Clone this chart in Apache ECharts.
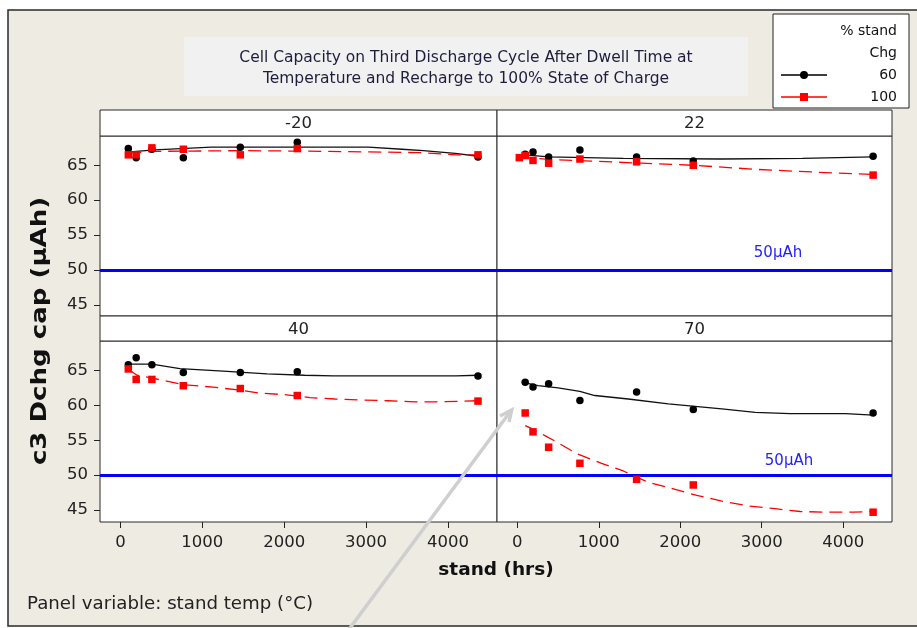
<!DOCTYPE html>
<html>
<head>
<meta charset="utf-8">
<script src="https://cdn.jsdelivr.net/npm/echarts@6/dist/echarts.min.js"></script>
<style>html,body{margin:0;padding:0;background:#fff}#c{width:917px;height:628px}</style>
</head>
<body>
<div id="c"></div>
<script>
// ---------------- DATA ----------------
const panelLabels = ['-20', '22', '40', '70'];
const legendNames = ['60', '100'];
const hours = [96, 192, 384, 768, 1464, 2160, 4368];
const hours100_22 = [24, 96, 192, 384, 768, 1464, 2160, 4368];
const xTicks = [0, 1000, 2000, 3000, 4000];
const yTicks = [45, 50, 55, 60, 65];
const refLevel = 50;

// observed capacities (µAh)
const chg60_m20 = [67.4, 66.1, 67.3, 66.1, 67.6, 68.3, 66.2];
const chg100_m20 = [66.5, 66.5, 67.5, 67.3, 66.5, 67.4, 66.5];
const chg60_22 = [66.6, 66.9, 66.2, 67.2, 66.2, 65.6, 66.3];
const chg100_22 = [66.1, 66.4, 65.7, 65.3, 65.9, 65.5, 65.0, 63.6];
const chg60_40 = [65.8, 66.8, 65.8, 64.7, 64.7, 64.8, 64.2];
const chg100_40 = [65.2, 63.7, 63.7, 62.8, 62.4, 61.4, 60.6];
const chg60_70 = [63.3, 62.6, 63.1, 60.7, 61.9, 59.4, 58.9];
const chg100_70 = [58.9, 56.2, 54.0, 51.7, 49.4, 48.6, 44.7];

// smoother (lowess) curves
const fitX60_m20 = [96, 192, 420, 1110, 2160, 3030, 3440, 3700, 4090, 4368];
const fitY60_m20 = [66.9, 67.0, 67.2, 67.6, 67.6, 67.6, 67.3, 67.1, 66.7, 66.3];
const fitX100_m20 = [96, 400, 1500, 2500, 3200, 3700, 4100, 4368];
const fitY100_m20 = [66.7, 67.0, 67.1, 67.0, 66.9, 66.8, 66.5, 66.5];
const fitX60_22 = [96, 384, 1300, 2500, 3500, 4368];
const fitY60_22 = [66.5, 66.2, 66.0, 65.9, 66.0, 66.2];
const fitX100_22 = [24, 440, 910, 1530, 2160, 2960, 3700, 4368];
const fitY100_22 = [66.2, 65.8, 65.6, 65.3, 65.0, 64.4, 64.0, 63.7];
const fitX60_40 = [96, 384, 725, 1255, 1790, 2250, 2600, 3335, 4100, 4368];
const fitY60_40 = [65.9, 65.9, 65.25, 64.9, 64.5, 64.3, 64.2, 64.2, 64.2, 64.3];
const fitX100_40 = [96, 200, 384, 768, 1130, 1434, 1700, 2030, 2316, 2620, 2965, 3270, 3600, 3920, 4368];
const fitY100_40 = [65.2, 64.3, 63.9, 62.95, 62.6, 62.2, 61.75, 61.5, 61.1, 60.9, 60.75, 60.65, 60.5, 60.5, 60.65];
const fitX60_70 = [96, 254, 500, 767, 951, 1361, 1853, 2510, 2920, 3350, 4030, 4368];
const fitY60_70 = [63.2, 62.8, 62.5, 62.0, 61.4, 60.9, 60.2, 59.5, 59.0, 58.8, 58.8, 58.6];
const fitX100_70 = [96, 172, 459, 726, 1034, 1300, 1607, 1895, 2203, 2510, 2838, 3167, 3474, 3800, 4130, 4368];
const fitY100_70 = [57.1, 56.7, 54.9, 53.1, 51.7, 50.6, 49.0, 48.1, 47.1, 46.3, 45.6, 45.2, 44.8, 44.7, 44.7, 44.8];

// ---------------- CHART ----------------
const FONT = 'DejaVu Sans';
const zip = (xs, ys) => xs.map((x, k) => [x, ys[k]]);

const panelData = [
  {h60: hours, y60: chg60_m20, h100: hours, y100: chg100_m20, fx60: fitX60_m20, fy60: fitY60_m20, fx100: fitX100_m20, fy100: fitY100_m20},
  {h60: hours, y60: chg60_22, h100: hours100_22, y100: chg100_22, fx60: fitX60_22, fy60: fitY60_22, fx100: fitX100_22, fy100: fitY100_22},
  {h60: hours, y60: chg60_40, h100: hours, y100: chg100_40, fx60: fitX60_40, fy60: fitY60_40, fx100: fitX100_40, fy100: fitY100_40},
  {h60: hours, y60: chg60_70, h100: hours, y100: chg100_70, fx60: fitX60_70, fy60: fitY60_70, fx100: fitX100_70, fy100: fitY100_70}
];

const gridBoxes = [
  {left: 100, top: 136, width: 397, height: 180},
  {left: 497, top: 136, width: 395, height: 180},
  {left: 100, top: 341, width: 397, height: 181},
  {left: 497, top: 341, width: 395, height: 181}
];
const yRanges = [[43.4, 69.2], [43.4, 69.2], [43.3, 69.2], [43.3, 69.2]];

const grid = gridBoxes.map(b => Object.assign({show: true, backgroundColor: '#fff', borderColor: '#2b2b2b', borderWidth: 1}, b));

const xAxis = gridBoxes.map((b, i) => {
  const bottom = i >= 2;
  return {
    type: 'value', gridIndex: i, min: -250, max: 4600, position: 'bottom',
    splitLine: {show: false},
    axisLine: {show: false, onZero: false},
    axisTick: {show: bottom, length: 6, lineStyle: {color: '#222'}, customValues: xTicks},
    axisLabel: {show: bottom, customValues: xTicks, formatter: v => String(v), fontSize: 16.5, fontFamily: FONT, color: '#222', margin: 12}
  };
});
const yAxis = gridBoxes.map((b, i) => {
  const left = i % 2 === 0;
  return {
    type: 'value', gridIndex: i, min: yRanges[i][0], max: yRanges[i][1], position: 'left',
    splitLine: {show: false},
    axisLine: {show: false, onZero: false},
    axisTick: {show: left, length: 6, lineStyle: {color: '#222'}, customValues: yTicks},
    axisLabel: {show: left, customValues: yTicks, formatter: v => String(v), fontSize: 16.5, fontFamily: FONT, color: '#222', margin: 12}
  };
});

const series = [];
panelData.forEach((p, i) => {
  series.push({
    name: legendNames[0], type: 'line', xAxisIndex: i, yAxisIndex: i,
    data: zip(p.fx60, p.fy60), showSymbol: false, symbol: 'none',
    lineStyle: {color: '#111', width: 1.3}, itemStyle: {color: '#000'}, z: 3,
    markLine: {
      silent: true, symbol: 'none', label: {show: false},
      lineStyle: {color: '#0000ff', width: 3, type: 'solid'},
      data: [{yAxis: refLevel}]
    }
  });
  series.push({
    name: legendNames[1], type: 'line', xAxisIndex: i, yAxisIndex: i,
    data: zip(p.fx100, p.fy100), showSymbol: false, symbol: 'none',
    lineStyle: {color: '#ff0000', width: 1.3, type: [13, 7]}, itemStyle: {color: '#f00'}, z: 3
  });
  series.push({
    name: legendNames[0], type: 'scatter', xAxisIndex: i, yAxisIndex: i,
    data: zip(p.h60, p.y60), symbol: 'circle', symbolSize: 7.5,
    itemStyle: {color: '#000', opacity: 1}, z: 4
  });
  series.push({
    name: legendNames[1], type: 'scatter', xAxisIndex: i, yAxisIndex: i,
    data: zip(p.h100, p.y100), symbol: 'rect', symbolSize: 7.5,
    itemStyle: {color: '#ff0000', opacity: 1}, z: 5
  });
});

const ICON60 = 'path://M0,3.3L46,3.3L46,4.7L0,4.7Z M19,4A4,4 0 1 1 27,4A4,4 0 1 1 19,4Z';
const ICON100 = 'path://M0,3.3L46,3.3L46,4.7L0,4.7Z M19,0L27,0L27,8L19,8Z';

const strips = [
  {x: 100, y: 110, w: 397, h: 26},
  {x: 497, y: 110, w: 395, h: 26},
  {x: 100, y: 316, w: 397, h: 25},
  {x: 497, y: 316, w: 395, h: 25}
];

const graphic = [
  {type: 'rect', z: -10, shape: {x: 8, y: 10, width: 920, height: 616}, style: {fill: '#eeebe2', stroke: '#2a2a2a', lineWidth: 1.5}},
  {type: 'rect', z: -5, shape: {x: 184, y: 37, width: 564, height: 59}, style: {fill: '#f1f1f1'}}
];
strips.forEach((s, i) => {
  graphic.push({type: 'rect', z: 10, shape: {x: s.x, y: s.y, width: s.w, height: s.h}, style: {fill: '#fff', stroke: '#2b2b2b', lineWidth: 1}});
  graphic.push({type: 'text', z: 11, x: s.x + s.w / 2, y: s.y + s.h / 2 + 1,
    style: {text: panelLabels[i], fontSize: 16.5, fontFamily: FONT, fill: '#222', align: 'center', verticalAlign: 'middle'}});
});
graphic.push(
  {type: 'text', z: 11, x: 778, y: 253, style: {text: '50µAh', fontSize: 15, fontFamily: FONT, fill: '#2323ff', align: 'center', verticalAlign: 'middle'}},
  {type: 'text', z: 11, x: 789, y: 461, style: {text: '50µAh', fontSize: 15, fontFamily: FONT, fill: '#2323ff', align: 'center', verticalAlign: 'middle'}},
  {type: 'text', z: 11, x: 41, y: 331, rotation: Math.PI / 2, scaleX: 1.27,
    style: {text: 'c3 Dchg cap (µAh)', fontSize: 20.5, fontWeight: 'bold', fontFamily: FONT, fill: '#111', align: 'center', verticalAlign: 'middle'}},
  {type: 'text', z: 11, x: 496, y: 570,
    style: {text: 'stand (hrs)', fontSize: 18.5, fontWeight: 'bold', fontFamily: FONT, fill: '#111', align: 'center', verticalAlign: 'middle'}},
  {type: 'text', z: 11, x: 27, y: 604,
    style: {text: 'Panel variable: stand temp (°C)', fontSize: 18.2, fontFamily: FONT, fill: '#222', align: 'left', verticalAlign: 'middle'}},
  {type: 'text', z: 50, x: 897, y: 31,
    style: {text: '% stand', fontSize: 14, fontFamily: FONT, fill: '#111', align: 'right', verticalAlign: 'middle'}},
  {type: 'text', z: 50, x: 897, y: 53,
    style: {text: 'Chg', fontSize: 14, fontFamily: FONT, fill: '#111', align: 'right', verticalAlign: 'middle'}},
  {type: 'line', z: 60, shape: {x1: 347, y1: 632, x2: 510, y2: 412}, style: {stroke: '#cfcfcf', lineWidth: 3.5}},
  {type: 'polyline', z: 60, shape: {points: [[500, 416], [511.7, 410], [509, 422]]}, style: {stroke: '#cfcfcf', lineWidth: 3.5, fill: null}}
);

const option = {
  animation: false,
  backgroundColor: '#fff',
  textStyle: {fontFamily: FONT},
  title: {
    text: 'Cell Capacity on Third Discharge Cycle After Dwell Time at\nTemperature and Recharge to 100% State of Charge',
    left: 466, top: 47.5, textAlign: 'center', padding: 0,
    textStyle: {fontSize: 15.5, fontWeight: 'normal', lineHeight: 21, color: '#1e1e3c', fontFamily: FONT}
  },
  legend: {
    orient: 'vertical', left: 773, top: 14, padding: [54, 12, 4, 8],
    itemWidth: 46, itemHeight: 8, itemGap: 8,
    backgroundColor: '#fff', borderColor: '#222', borderWidth: 1,
    data: [
      {name: legendNames[0], icon: ICON60, itemStyle: {color: '#000'}},
      {name: legendNames[1], icon: ICON100, itemStyle: {color: '#ff0000'}}
    ],
    formatter: n => '{a|' + n + '}',
    textStyle: {rich: {a: {width: 65, align: 'right', fontSize: 14, fontFamily: FONT, color: '#111', lineHeight: 8}}}
  },
  grid, xAxis, yAxis, series, graphic
};

const chart = echarts.init(document.getElementById('c'), null, {renderer: 'canvas'});
chart.setOption(option);
</script>
</body>
</html>
